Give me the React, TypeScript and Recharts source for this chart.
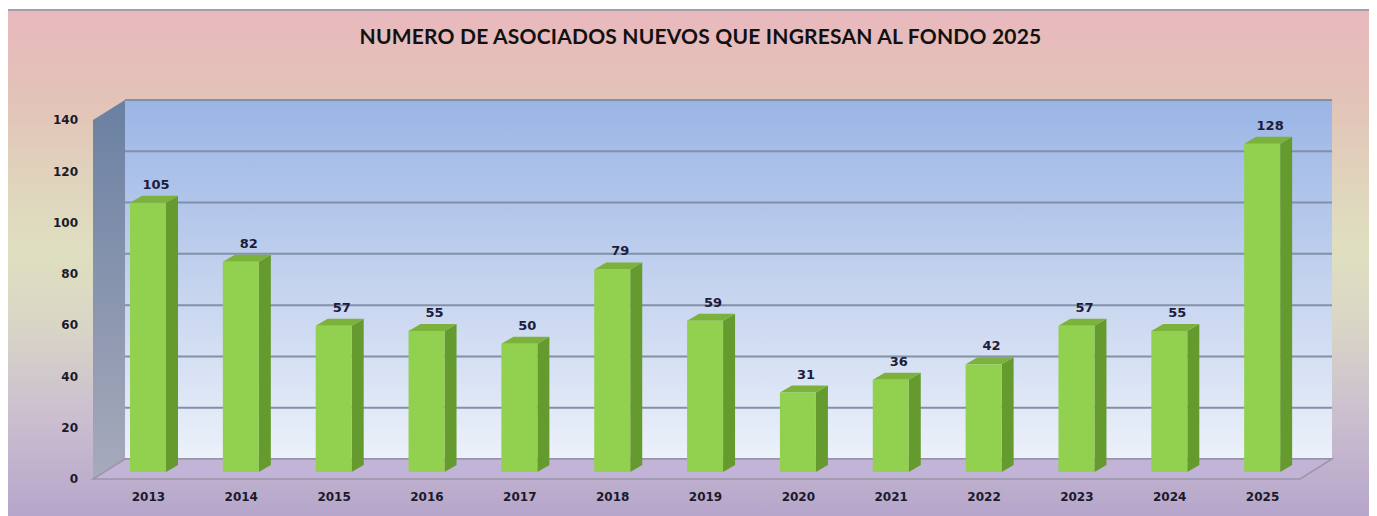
import { BarChart, Bar, XAxis, YAxis, CartesianGrid, ReferenceArea, LabelList } from 'recharts';

// data
const years = ['2013', '2014', '2015', '2016', '2017', '2018', '2019', '2020', '2021', '2022', '2023', '2024', '2025'];
const nuevos = [105, 82, 57, 55, 50, 79, 59, 31, 36, 42, 57, 55, 128];
const yTicks = [0, 20, 40, 60, 80, 100, 120, 140];

const data = years.map((year, i) => ({ year, nuevos: nuevos[i] }));

const W = 1369;
const H = 507;
const YW = 70;
const M = { top: 111, right: 77, bottom: 7, left: 15 };
const PL = M.left + YW; // plot left
const PW = W - M.right - PL;
const PH = 359;

// fake 3D offsets
const DX = 32, DY = -20; // walls depth
const BX = 9, BY = -7; // bar plane
const SX = 12, SY = -7; // bar depth

const Bar3D = (p: any) => {
    const { x, y, width, height } = p;
    if (!height) return null;
    const fx = x + BX;
    const fy = y + BY;
    const b = fy + height;
    const r = fx + width;
    return (
        <g>
            <polygon points={`${r},${fy} ${r + SX},${fy + SY} ${r + SX},${b + SY} ${r},${b}`} fill="#659a2e" />
            <polygon points={`${fx},${fy} ${r},${fy} ${r + SX},${fy + SY} ${fx + SX},${fy + SY}`} fill="#7cb23c" />
            <rect x={fx} y={fy} width={width} height={height} fill="#92d050" />
        </g>
    );
};

const Walls = (p: any) => {
    const { x, y, width, height } = p;
    const b = y + height;
    return (
        <g>
            <polygon
                points={`${x},${y} ${x + DX},${y + DY} ${x + DX},${b + DY} ${x},${b}`}
                fill="url(#sideWall)"
            />
            <polygon
                points={`${x},${b} ${x + width},${b} ${x + width + DX},${b + DY} ${x + DX},${b + DY}`}
                fill="#c2b4d6"
                stroke="#9b95a9"
                strokeWidth={1.5}
            />
        </g>
    );
};

const GridLine = (p: any) => (
    <line key={p.key} x1={p.x1} y1={p.y1 + DY} x2={p.x2} y2={p.y2 + DY} stroke="#8290a8" strokeWidth={2} />
);

const XTick = (p: any) => (
    <text x={p.x + BX} y={p.y + 22} textAnchor="middle" fontFamily="DejaVu Sans" fontWeight="bold" fontSize={12} fill="#1a1a2a">
        {p.payload.value}
    </text>
);

const ValueLabel = (p: any) => (
    <text
        x={p.x + p.width / 2 + BX + 8}
        y={p.y + BY - 14}
        textAnchor="middle"
        fontFamily="DejaVu Sans"
        fontWeight="bold"
        fontSize={13}
        fill="#1c1c3c"
    >
        {p.value}
    </text>
);

export default function App() {
    return (
        <div
            style={{
                position: 'relative',
                width: W,
                height: H,
                marginTop: 1,
                background: 'linear-gradient(to bottom, #e9b8bd 0%, #e3c3b8 18%, #e0d2bc 32%, #dfdfc0 48%, #d9d6c6 62%, #cbbfcf 80%, #b6a6cc 100%)',
                boxShadow: 'inset 0 2px 0 #a59ea8',
            }}
        >
            <div
                style={{
                    position: 'absolute',
                    top: 14,
                    left: 8,
                    width: '100%',
                    textAlign: 'center',
                    fontFamily: 'Lato',
                    fontWeight: 700,
                    fontSize: 21,
                    letterSpacing: 0.2,
                    lineHeight: '26px',
                    color: '#111',
                }}
            >
                NUMERO DE ASOCIADOS NUEVOS QUE INGRESAN AL FONDO 2025
            </div>
            <div style={{ position: 'absolute', top: 0, left: 0 }}>
                <BarChart width={W} height={H} data={data} margin={M} barSize={36}>
                    <defs>
                        <linearGradient id="backWall" x1="0" y1="0" x2="0" y2="1">
                            <stop offset="0%" stopColor="#9ab5e5" />
                            <stop offset="50%" stopColor="#c3d2ee" />
                            <stop offset="100%" stopColor="#ecf1fa" />
                        </linearGradient>
                        <linearGradient id="sideWall" x1="0" y1="0" x2="0" y2="1">
                            <stop offset="0%" stopColor="#6a80a2" />
                            <stop offset="100%" stopColor="#a7aabb" />
                        </linearGradient>
                    </defs>
                    <CartesianGrid
                        x={PL + DX}
                        y={M.top + DY}
                        width={PW}
                        height={PH}
                        fill="url(#backWall)"
                        fillOpacity={1}
                        vertical={false}
                        horizontal={GridLine}
                    />
                    <ReferenceArea y1={0} y2={140} shape={Walls} />
                    <XAxis
                        dataKey="year"
                        height={30}
                        axisLine={false}
                        tickLine={false}
                        tickSize={0}
                        tickMargin={0}
                        tick={XTick}
                        interval={0}
                    />
                    <YAxis
                        width={YW}
                        domain={[0, 140]}
                        ticks={yTicks}
                        axisLine={false}
                        tickLine={false}
                        tickSize={0}
                        tickMargin={15}
                        tick={{ fontFamily: 'DejaVu Sans', fontWeight: 'bold', fontSize: 12, fill: '#1a1a2a' }}
                    />
                    <Bar dataKey="nuevos" shape={Bar3D} isAnimationActive={false}>
                        <LabelList dataKey="nuevos" content={ValueLabel} />
                    </Bar>
                </BarChart>
            </div>
        </div>
    );
}
